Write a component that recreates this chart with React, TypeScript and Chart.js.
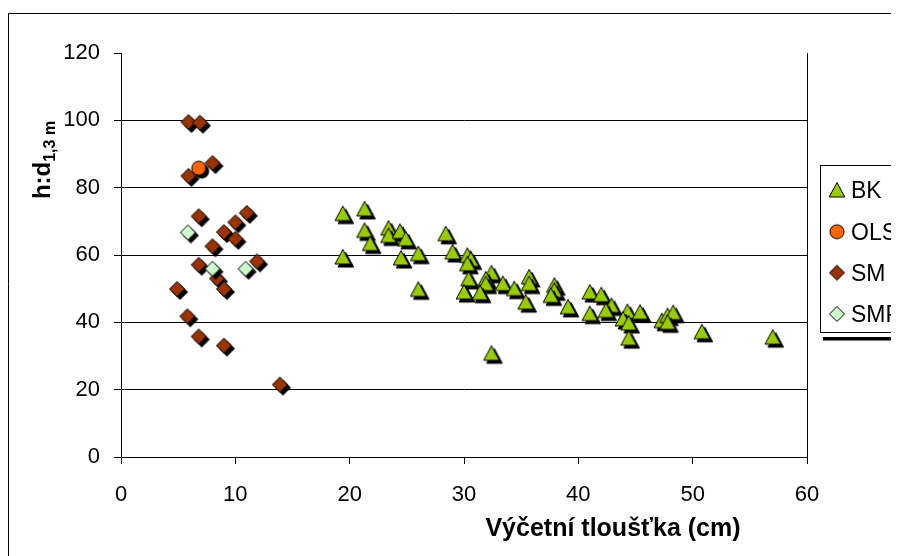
import React, { useEffect, useRef } from "react";
import { Chart, registerables } from "chart.js";

Chart.register(...registerables);

// ---------- data ----------
const seriesNames = ["BK", "OLS", "SM", "SMP"];

const bkX = [19.4, 21.3, 19.4, 21.3, 21.8, 23.4, 23.4, 24.4, 24.9, 24.5, 26.0, 26.0, 28.4, 29.0, 30.3, 30.6, 30.3, 32.4, 30.4, 31.9, 31.9, 30.0, 31.4, 32.4, 33.4, 34.4, 35.7, 35.7, 35.4, 37.9, 37.9, 37.6, 39.1, 41.0, 42.0, 41.0, 42.9, 42.4, 44.3, 43.9, 44.4, 44.4, 45.4, 47.3, 47.8, 48.3, 47.8, 50.8, 57.0];
const bkY = [72.3, 73.7, 59.4, 67.3, 63.4, 68.0, 65.8, 67.0, 64.8, 59.1, 60.4, 49.8, 66.3, 60.9, 59.9, 58.7, 57.4, 54.7, 52.9, 52.9, 51.5, 49.0, 48.8, 30.8, 51.5, 50.0, 53.5, 51.5, 46.0, 51.0, 49.5, 48.0, 44.6, 49.0, 48.2, 42.6, 45.0, 43.5, 43.2, 41.0, 39.8, 35.3, 43.0, 40.5, 42.0, 42.9, 40.0, 37.2, 35.6];

const olsX = [6.8];
const olsY = [85.8];

const smX = [5.9, 6.9, 8.0, 5.9, 6.8, 11.0, 10.0, 9.0, 10.0, 8.0, 6.8, 11.9, 8.4, 9.0, 4.9, 5.8, 6.8, 9.0, 13.9];
const smY = [99.5, 99.3, 87.3, 83.5, 71.5, 72.5, 69.7, 66.8, 64.8, 62.6, 57.1, 58.1, 53.0, 49.9, 49.9, 41.8, 35.8, 33.1, 21.5];

const smpX = [5.85, 8.0, 10.9];
const smpY = [66.7, 55.9, 55.9];

const xMin = 0;
const xMax = 60;
const xStep = 10;
const yMin = 0;
const yMax = 120;
const yStep = 20;

const xTitle = "Výčetní tloušťka (cm)";
const yTitleMain = "h:d";
const yTitleSub = "1,3 m";

// ---------- styling ----------
const FONT = 'Arial, "Liberation Sans", sans-serif';
const colors = {
  BK: "#99CC00",
  OLS: "#FF6600",
  SM: "#993300",
  SMP: "#CCFFCC",
};
const shapes: Record<string, string> = { BK: "tri", OLS: "circle", SM: "dia", SMP: "dia" };

function zip(xs: number[], ys: number[]) {
  return xs.map((x, i) => ({ x, y: ys[i] }));
}

function shapePath(g: CanvasRenderingContext2D, shape: string, cx: number, cy: number) {
  g.beginPath();
  if (shape === "tri") {
    g.moveTo(cx, cy - 7.5);
    g.lineTo(cx + 7.8, cy + 7);
    g.lineTo(cx - 7.8, cy + 7);
    g.closePath();
  } else if (shape === "dia") {
    g.moveTo(cx, cy - 7.5);
    g.lineTo(cx + 7.5, cy);
    g.lineTo(cx, cy + 7.5);
    g.lineTo(cx - 7.5, cy);
    g.closePath();
  } else {
    g.arc(cx, cy, 7, 0, Math.PI * 2);
  }
}

function makeSprite(shape: string, fill: string, shadow: boolean) {
  const c = document.createElement("canvas");
  c.width = 32;
  c.height = 32;
  const g = c.getContext("2d") as CanvasRenderingContext2D;
  g.lineWidth = 1;
  g.strokeStyle = "#000";
  if (shadow) {
    shapePath(g, shape, 19, 19);
    g.fillStyle = "#000";
    g.fill();
    g.stroke();
  }
  shapePath(g, shape, 16, 16);
  g.fillStyle = fill;
  g.fill();
  g.stroke();
  return c;
}

export default function App() {
  const ref = useRef<HTMLCanvasElement | null>(null);

  useEffect(() => {
    document.body.style.overflow = "hidden";
    const canvas = ref.current;
    if (!canvas) return;

    const sprites: Record<string, HTMLCanvasElement> = {};
    const legendSprites: Record<string, HTMLCanvasElement> = {};
    seriesNames.forEach((n) => {
      sprites[n] = makeSprite(shapes[n], (colors as any)[n], true);
      legendSprites[n] = makeSprite(shapes[n], (colors as any)[n], false);
    });

    const seriesData: Record<string, { x: number; y: number }[]> = {
      BK: zip(bkX, bkY),
      OLS: zip(olsX, olsY),
      SM: zip(smX, smY),
      SMP: zip(smpX, smpY),
    };
    const orders: Record<string, number> = { BK: 3, SM: 2, SMP: 1, OLS: 0 };

    const deco = {
      id: "deco",
      afterDraw(chart: any) {
        const ctx = chart.ctx as CanvasRenderingContext2D;
        const W = chart.width;
        const H = chart.height;
        ctx.save();
        // outer chart border
        ctx.strokeStyle = "#000";
        ctx.lineWidth = 1;
        ctx.beginPath();
        ctx.moveTo(0.5, H);
        ctx.lineTo(0.5, 5.5);
        ctx.lineTo(W, 5.5);
        ctx.stroke();

        // x axis title
        ctx.fillStyle = "#000";
        ctx.font = `bold 25px ${FONT}`;
        ctx.textAlign = "center";
        ctx.textBaseline = "alphabetic";
        ctx.fillText(xTitle, 605, 528);

        // y axis title (rotated with subscript)
        ctx.save();
        ctx.translate(42, 152);
        ctx.rotate(-Math.PI / 2);
        ctx.textAlign = "left";
        ctx.font = `bold 24px ${FONT}`;
        const w1 = ctx.measureText(yTitleMain).width;
        ctx.font = `bold 16px ${FONT}`;
        const w2 = ctx.measureText(yTitleSub).width;
        const start = -(w1 + w2) / 2;
        ctx.font = `bold 24px ${FONT}`;
        ctx.fillText(yTitleMain, start, 0);
        ctx.font = `bold 16px ${FONT}`;
        ctx.fillText(yTitleSub, start + w1, 5);
        ctx.restore();

        // legend
        const lx = 812.5;
        const ly = 157.5;
        const lh = 167;
        ctx.fillStyle = "#000";
        ctx.fillRect(815, 329, W - 815, 3.5);
        ctx.fillStyle = "#fff";
        ctx.fillRect(lx, ly, W - lx + 10, lh);
        ctx.strokeStyle = "#000";
        ctx.strokeRect(lx, ly, W - lx + 10, lh);
        const itemY = [182, 223.7, 264.7, 306];
        ctx.font = `23px ${FONT}`;
        ctx.textAlign = "left";
        ctx.textBaseline = "alphabetic";
        ctx.fillStyle = "#000";
        seriesNames.forEach((n, i) => {
          const sp = legendSprites[n];
          ctx.drawImage(sp, 829 - 16, itemY[i] - 16);
          ctx.fillStyle = "#000";
          ctx.fillText(n, 843, itemY[i] + 8);
        });
        ctx.restore();
      },
    };

    const chart = new Chart(canvas, {
      type: "scatter",
      data: {
        datasets: seriesNames.map((n) => ({
          label: n,
          data: seriesData[n],
          pointStyle: sprites[n] as any,
          pointRadius: 8,
          order: orders[n],
          showLine: false,
        })),
      },
      options: {
        animation: false,
        responsive: false,
        devicePixelRatio: 1,
        events: [],
        layout: { padding: { left: 0, right: 92, top: 45, bottom: 0 } },
        plugins: {
          legend: { display: false },
          tooltip: { enabled: false },
          title: { display: false },
        },
        scales: {
          x: {
            type: "linear",
            min: xMin,
            max: xMax,
            afterFit: (s: any) => {
              s.height = 99;
            },
            ticks: {
              stepSize: xStep,
              color: "#000",
              font: { family: FONT, size: 22 },
              padding: 18,
              maxRotation: 0,
            },
            grid: {
              drawOnChartArea: true,
              color: (c: any) => (c.tick && c.tick.value === xMax ? "#000" : "rgba(0,0,0,0)"),
              tickColor: "#000",
              tickLength: 7,
            },
            border: { display: true, color: "#000", width: 1 },
          },
          y: {
            type: "linear",
            min: yMin,
            max: yMax,
            afterFit: (s: any) => {
              s.width = 113;
            },
            ticks: {
              stepSize: yStep,
              color: "#000",
              font: { family: FONT, size: 22 },
              padding: 14,
            },
            grid: {
              drawOnChartArea: true,
              color: (c: any) => (c.tick && c.tick.value === yMax ? "rgba(0,0,0,0)" : "#000"),
              tickColor: "#000",
              tickLength: 7,
            },
            border: { display: true, color: "#000", width: 1 },
          },
        },
      },
      plugins: [deco],
    });

    return () => chart.destroy();
  }, []);

  return (
    <div style={{ width: 891, height: 548, overflow: "hidden" }}>
      <canvas
        ref={ref}
        width={891}
        height={548}
        style={{ display: "block", width: "891px", height: "548px" }}
      />
    </div>
  );
}
